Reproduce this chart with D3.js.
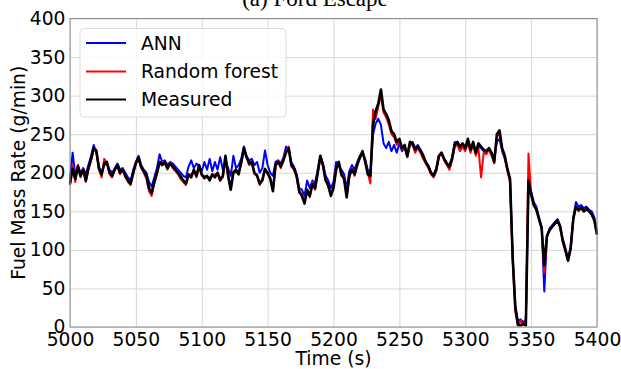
<!DOCTYPE html>
<html>
<head>
<meta charset="utf-8">
<script src="https://cdn.jsdelivr.net/npm/d3@7"></script>
<style>
  body { margin: 0; background: #fff; }
  #chart text { font-family: "DejaVu Sans", sans-serif; fill: #000; }
</style>
</head>
<body>
<div id="chart"></div>
<script>
// time axis, one sample every 2 s
const times = d3.range(5000, 5401, 2);

const measured = [
  186,205,192,208,196,204,190,206,218,232,
  228,205,198,212,214,200,196,204,210,200,
  204,196,190,186,200,212,220,208,202,196,
  180,174,188,200,214,210,214,206,212,208,
  204,200,195,190,186,198,194,204,196,210,
  198,193,196,190,198,194,200,190,196,222,
  196,178,200,204,198,214,232,220,212,214,
  200,196,186,190,205,200,192,176,210,214,
  208,216,226,232,210,206,196,176,170,160,
  178,170,185,180,200,222,210,190,184,170,
  180,204,214,198,192,168,196,204,198,210,
  220,228,215,198,196,262,280,290,308,282,
  276,268,254,250,240,244,232,236,222,240,
  238,230,234,228,222,214,208,200,196,204,
  222,226,218,212,208,218,236,240,234,238,
  232,244,230,240,226,238,234,230,228,232,
  226,214,250,255,232,222,205,192,90,25,
  3,2,4,2,190,172,158,152,140,128,
  80,118,126,130,134,138,130,112,100,86,
  102,140,156,152,155,150,154,150,146,138,
  120
];

const annPred = [
  192,226,196,210,200,206,198,210,222,236,
  226,208,200,210,212,204,200,206,212,204,
  206,200,194,190,204,214,222,210,204,200,
  188,182,194,206,224,214,216,210,214,212,
  208,204,200,196,194,208,216,206,212,208,
  202,214,204,218,202,214,204,220,204,216,
  206,196,222,206,210,218,234,222,216,218,
  210,214,200,206,229,210,200,196,214,216,
  212,220,234,230,214,208,198,180,178,170,
  190,180,190,186,204,222,212,196,190,180,
  188,214,210,204,198,180,202,210,204,214,
  222,226,218,204,200,250,264,270,262,238,
  232,240,228,236,226,238,228,232,220,236,
  240,232,236,230,224,214,210,200,198,206,
  222,224,218,212,210,220,240,238,232,236,
  230,238,228,236,228,234,232,228,226,230,
  224,218,240,244,228,218,204,190,92,28,
  8,10,6,10,186,176,162,156,142,130,
  46,116,128,132,136,140,132,114,102,88,
  104,142,162,156,158,154,156,152,150,142,
  124
];

const rfPred = [
  184,210,188,210,194,206,188,204,216,230,
  230,204,194,218,212,198,194,206,208,198,
  206,194,188,184,198,214,218,206,200,192,
  176,170,186,198,212,214,212,204,214,206,
  202,198,192,188,184,196,198,202,194,208,
  196,196,194,194,196,198,198,194,194,218,
  198,180,202,200,200,212,230,222,210,212,
  198,198,184,192,204,198,194,178,208,216,
  206,218,228,234,208,204,194,174,172,162,
  176,168,188,178,198,220,208,192,182,172,
  182,206,212,196,194,170,194,206,196,212,
  218,226,214,200,186,282,270,286,300,278,
  272,262,250,246,236,242,230,234,220,236,
  236,226,232,226,218,212,206,198,194,202,
  220,226,216,210,204,216,234,236,228,234,
  228,240,226,236,222,232,194,226,224,230,
  222,212,246,252,230,220,202,188,88,20,
  2,8,3,6,225,172,160,152,140,128,
  70,118,124,130,134,138,130,110,98,86,
  100,140,156,150,154,150,152,150,146,138,
  120
];

const xTicks = [5000, 5050, 5100, 5150, 5200, 5250, 5300, 5350, 5400];
const yTicks = [0, 50, 100, 150, 200, 250, 300, 350, 400];
const seriesNames = ["ANN", "Random forest", "Measured"];
const seriesColors = ["#0000ff", "#ff0000", "#000000"];

function drawChart() {

  // 1. dimensions
  const dimensions = {
    width: 621,
    height: 369,
    margin: { top: 18.5, right: 24, bottom: 42, left: 70 }
  };
  dimensions.boundedWidth = dimensions.width - dimensions.margin.left - dimensions.margin.right;
  dimensions.boundedHeight = dimensions.height - dimensions.margin.top - dimensions.margin.bottom;

  // 2. canvas
  const wrapper = d3.select("#chart").append("svg")
      .attr("width", dimensions.width)
      .attr("height", dimensions.height);

  const bounds = wrapper.append("g")
      .attr("transform", `translate(${dimensions.margin.left},${dimensions.margin.top})`);

  // 3. scales
  const xScale = d3.scaleLinear()
      .domain([5000, 5400])
      .range([0, dimensions.boundedWidth]);

  const yScale = d3.scaleLinear()
      .domain([0, 400])
      .range([dimensions.boundedHeight, 0]);

  // 4. grid
  bounds.append("g")
      .attr("transform", `translate(0,${dimensions.boundedHeight})`)
      .call(d3.axisBottom(xScale).tickValues(xTicks).tickSize(-dimensions.boundedHeight).tickFormat(""))
      .call(g => g.select(".domain").remove())
      .call(g => g.selectAll("line").attr("stroke", "#d6d6d6").attr("stroke-width", 1));

  bounds.append("g")
      .call(d3.axisLeft(yScale).tickValues(yTicks).tickSize(-dimensions.boundedWidth).tickFormat(""))
      .call(g => g.select(".domain").remove())
      .call(g => g.selectAll("line").attr("stroke", "#d6d6d6").attr("stroke-width", 1));

  // 5. lines
  const series = [annPred, rfPred, measured];
  const widths = [2, 2, 2.6];

  series.forEach((values, i) => {
    const lineGenerator = d3.line()
        .x((d, j) => xScale(times[j]))
        .y(d => yScale(d));
    bounds.append("path")
        .attr("d", lineGenerator(values))
        .attr("fill", "none")
        .attr("stroke", seriesColors[i])
        .attr("stroke-width", widths[i])
        .attr("stroke-linejoin", "round");
  });

  // 6. axes + frame
  bounds.append("rect")
      .attr("width", dimensions.boundedWidth)
      .attr("height", dimensions.boundedHeight)
      .attr("fill", "none")
      .attr("stroke", "#8c8c8c")
      .attr("stroke-width", 1);

  const xAxis = bounds.append("g")
      .attr("transform", `translate(0,${dimensions.boundedHeight})`)
      .call(d3.axisBottom(xScale).tickValues(xTicks).tickSize(0).tickFormat(d3.format("d")))
      .call(g => g.select(".domain").remove());
  xAxis.selectAll("line").remove();
  xAxis.selectAll("text")
      .attr("y", 19)
      .attr("dy", 0)
      .style("font-size", "18.7px");

  const yAxis = bounds.append("g")
      .call(d3.axisLeft(yScale).tickValues(yTicks).tickSize(0).tickPadding(4.5))
      .call(g => g.select(".domain").remove());
  yAxis.selectAll("line").remove();
  yAxis.selectAll("text").style("font-size", "18.7px");

  // axis labels
  wrapper.append("text")
      .attr("x", dimensions.margin.left + dimensions.boundedWidth / 2)
      .attr("y", 365)
      .attr("text-anchor", "middle")
      .style("font-size", "18.7px")
      .text("Time (s)");

  wrapper.append("text")
      .attr("transform", `translate(25,${dimensions.margin.top + dimensions.boundedHeight / 2}) rotate(-90)`)
      .attr("text-anchor", "middle")
      .style("font-size", "18.7px")
      .text("Fuel Mass Rate (g/min)");

  // title, cut by the top edge
  wrapper.append("text")
      .attr("x", 315)
      .attr("y", 6)
      .attr("text-anchor", "middle")
      .style("font-family", "'Liberation Serif', serif")
      .style("font-size", "23px")
      .text("(a) Ford Escape");

  // 7. legend
  const legend = wrapper.append("g");
  legend.append("rect")
      .attr("x", 80).attr("y", 28.5)
      .attr("width", 206).attr("height", 88.5)
      .attr("rx", 4)
      .attr("fill", "#fff").attr("fill-opacity", 0.8)
      .attr("stroke", "#dcdcdc");

  const rowY = [43, 71.5, 99.5];
  seriesNames.forEach((name, i) => {
    legend.append("line")
        .attr("x1", 86).attr("x2", 126)
        .attr("y1", rowY[i]).attr("y2", rowY[i])
        .attr("stroke", seriesColors[i])
        .attr("stroke-width", 2);
    legend.append("text")
        .attr("x", 141).attr("y", rowY[i])
        .attr("dy", "0.35em")
        .style("font-size", "18.7px")
        .text(name);
  });
}

drawChart();
</script>
</body>
</html>
